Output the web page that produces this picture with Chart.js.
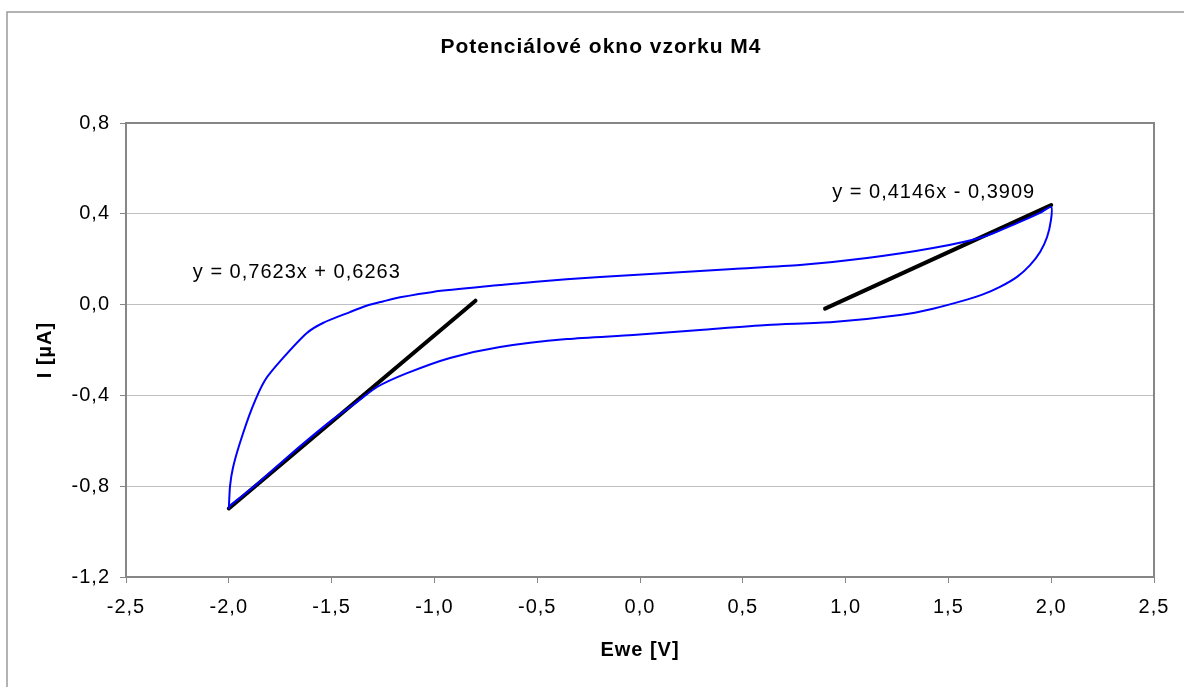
<!DOCTYPE html>
<html lang="cs">
<head>
<meta charset="UTF-8">
<title>Potenciálové okno vzorku M4</title>
<script src="https://cdn.jsdelivr.net/npm/chart.js"></script>
<style>
  html, body { margin: 0; padding: 0; background: #fff; }
  #wrap { width: 1184px; height: 687px; }
</style>
</head>
<body>
<div id="wrap"><canvas id="cvChart" width="1184" height="687"></canvas></div>
<script>
// CV loop: potential Ewe [V] and current I [uA]
// upper branch from -2 V to +2 V, then lower branch back to -2 V
const loopE = [
  -2.00, -1.994, -1.98, -1.946, -1.887, -1.824, -1.736, -1.62, -1.542, -1.411,
  -1.33, -1.25, -1.167, -1.007, -0.681, -0.52, -0.195, 0.131, 0.452, 0.778,
  1.104, 1.425, 1.668, 1.834, 1.946, 2.00,
  1.999, 1.98, 1.946, 1.897, 1.834, 1.751, 1.668, 1.59, 1.425, 1.265,
  0.939, 0.618, 0.292, -0.034, -0.355, -0.681, -0.924, -1.133, -1.279, -1.376,
  -1.5, -1.7, -1.85, -2.00
];
const loopI = [
  -0.90, -0.80, -0.72, -0.61, -0.456, -0.333, -0.235, -0.125, -0.081, -0.033,
  -0.005, 0.014, 0.032, 0.056, 0.086, 0.100, 0.122, 0.139, 0.157, 0.174,
  0.205, 0.249, 0.298, 0.359, 0.404, 0.430,
  0.373, 0.298, 0.232, 0.174, 0.122, 0.078, 0.045, 0.022, -0.018, -0.046,
  -0.077, -0.090, -0.112, -0.134, -0.152, -0.187, -0.235, -0.302, -0.363, -0.429,
  -0.51, -0.66, -0.78, -0.89
];

// linear fits (end points of the black lines)
const fitLeftE = [-2.0, -0.8];
const fitLeftI = [-0.898, 0.017];
const fitRightE = [0.9, 2.0];
const fitRightI = [-0.018, 0.438];
const fitText = ["y = 0,7623x + 0,6263", "y = 0,4146x - 0,3909"];
const fitTextAt = [[-2.175, 0.14], [0.935, 0.495]];

const chartTitle = "Potenciálové okno vzorku M4";
const xTitle = "Ewe [V]";
const yTitle = "I [µA]";
const xMin = -2.5, xMax = 2.5, xStep = 0.5;
const yMin = -1.2, yMax = 0.8, yStep = 0.4;

const FONT = '"Liberation Sans", Arial, sans-serif';

function toPts(xs, ys) {
  return xs.map((x, i) => ({ x: x, y: ys[i] }));
}
function fmt(v) {
  if (Math.abs(v) < 1e-9) v = 0;
  return v.toFixed(1).replace('.', ',');
}

// frame, title, equations
const extras = {
  id: 'extras',
  beforeDraw(chart) {
    const ctx = chart.ctx;
    ctx.letterSpacing = '1px';
    ctx.save();
    ctx.fillStyle = '#fff';
    ctx.fillRect(0, 0, chart.width, chart.height);
    ctx.strokeStyle = '#9a9a9a';
    ctx.lineWidth = 1.5;
    ctx.beginPath();
    ctx.moveTo(7, chart.height);
    ctx.lineTo(7, 12);
    ctx.lineTo(chart.width, 12);
    ctx.stroke();
    ctx.restore();
  },
  beforeDatasetsDraw(chart) {
    const a = chart.chartArea;
    const ctx = chart.ctx;
    ctx.save();
    ctx.strokeStyle = '#868686';
    ctx.lineWidth = 2;
    ctx.strokeRect(a.left, a.top, a.right - a.left, a.bottom - a.top);
    ctx.restore();
  },
  afterDatasetsDraw(chart) {
    const ctx = chart.ctx;
    const sx = chart.scales.x, sy = chart.scales.y;
    ctx.save();
    ctx.fillStyle = '#000';
    ctx.font = '20px ' + FONT;
    ctx.textAlign = 'left';
    ctx.textBaseline = 'middle';
    fitText.forEach((t, i) => {
      ctx.fillText(t, sx.getPixelForValue(fitTextAt[i][0]), sy.getPixelForValue(fitTextAt[i][1]));
    });
    ctx.font = 'bold 21px ' + FONT;
    ctx.textAlign = 'center';
    ctx.fillText(chartTitle, 601, 47);
    ctx.restore();
  }
};

new Chart(document.getElementById('cvChart'), {
  type: 'scatter',
  data: {
    datasets: [
      {
        label: 'CV',
        data: toPts(loopE, loopI),
        showLine: true,
        borderColor: '#0000ff',
        borderWidth: 2,
        pointRadius: 0,
        tension: 0.25,
        fill: false
      },
      {
        label: 'fit 1',
        data: toPts(fitLeftE, fitLeftI),
        showLine: true,
        borderColor: '#000',
        borderWidth: 4,
        borderCapStyle: 'round',
        pointRadius: 0
      },
      {
        label: 'fit 2',
        data: toPts(fitRightE, fitRightI),
        showLine: true,
        borderColor: '#000',
        borderWidth: 4,
        borderCapStyle: 'round',
        pointRadius: 0
      }
    ]
  },
  options: {
    responsive: false,
    animation: false,
    layout: { padding: { left: 0, right: 30, top: 123, bottom: 0 } },
    plugins: {
      legend: { display: false },
      tooltip: { enabled: false },
      title: { display: false }
    },
    scales: {
      x: {
        type: 'linear',
        min: xMin, max: xMax,
        afterFit(scale) { scale.height = 110; },
        ticks: {
          stepSize: xStep,
          color: '#000',
          font: { family: FONT, size: 20 },
          padding: 12,
          maxRotation: 0,
          callback: v => fmt(v)
        },
        grid: {
          drawOnChartArea: false,
          tickLength: 6,
          tickColor: '#868686',
          tickWidth: 1
        },
        border: { display: false },
        title: {
          display: true,
          text: xTitle,
          color: '#000',
          font: { family: FONT, size: 20, weight: 'bold' },
          padding: { top: 0, bottom: 25 }
        }
      },
      y: {
        type: 'linear',
        min: yMin, max: yMax,
        afterFit(scale) { scale.width = 126; },
        ticks: {
          stepSize: yStep,
          color: '#000',
          font: { family: FONT, size: 20 },
          padding: 10,
          callback: v => fmt(v)
        },
        grid: {
          color: '#c0c0c0',
          lineWidth: 1,
          tickLength: 6,
          tickColor: '#868686'
        },
        border: { display: false },
        title: {
          display: true,
          text: yTitle,
          color: '#000',
          font: { family: FONT, size: 20, weight: 'bold' },
          padding: { top: 33, bottom: 0 }
        }
      }
    }
  },
  plugins: [extras]
});
</script>
</body>
</html>
